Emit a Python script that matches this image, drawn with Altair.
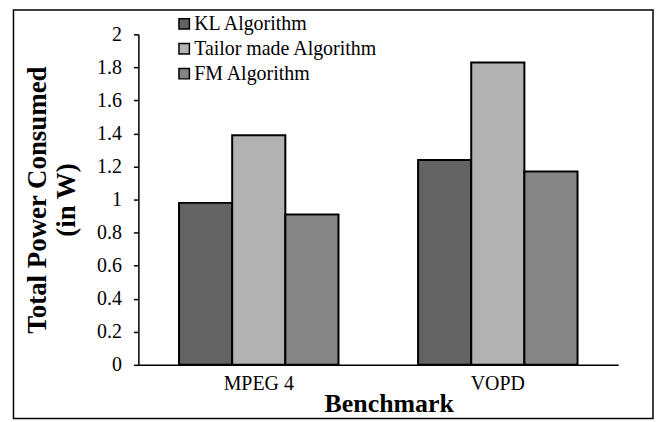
import altair as alt
import pandas as pd

benchmarks = ["MPEG 4", "VOPD"]
algorithms = ["KL Algorithm", "Tailor made Algorithm", "FM Algorithm"]
kl_power = [0.98, 1.24]
tailor_power = [1.39, 1.83]
fm_power = [0.91, 1.17]
colors = ["#636363", "#b2b2b2", "#858585"]
y_ticks = [0, 0.2, 0.4, 0.6, 0.8, 1.0, 1.2, 1.4, 1.6, 1.8, 2.0]

rows = []
for i, b in enumerate(benchmarks):
    for alg, vals in zip(algorithms, [kl_power, tailor_power, fm_power]):
        rows.append({"Benchmark": b, "Algorithm": alg, "Power": vals[i]})
df = pd.DataFrame(rows)

FONT = "Liberation Serif"

bars = alt.Chart(df).mark_bar(stroke="black", strokeWidth=2).encode(
    x=alt.X(
        "Benchmark:N",
        sort=benchmarks,
        scale=alt.Scale(paddingInner=0.333, paddingOuter=0.17),
        axis=alt.Axis(
            title="Benchmark", labelAngle=0, ticks=False, labelPadding=9,
            labelFont=FONT, labelFontSize=20, labelColor="black",
            domainColor="black", domainWidth=1.5,
            titleFont=FONT, titleFontSize=26, titleFontWeight="bold", titleColor="black",
            titleX=251.5, titleY=47, titleBaseline="alphabetic", titleAlign="center",
        ),
    ),
    xOffset=alt.XOffset("Algorithm:N", sort=algorithms,
                        scale=alt.Scale(paddingInner=0, paddingOuter=0)),
    y=alt.Y(
        "Power:Q",
        scale=alt.Scale(domain=[0, 2], nice=False),
        axis=alt.Axis(
            values=y_ticks, format="~g", grid=False,
            labelFont=FONT, labelFontSize=20, labelColor="black", labelPadding=12,
            tickSize=5, tickColor="black", tickWidth=1.5,
            domainColor="black", domainWidth=1.5,
            title=["Total Power Consumed", "(in W)"],
            titleFont=FONT, titleFontSize=27, titleFontWeight="bold", titleColor="black",
            titleAngle=270, titleX=-114, titleY=166, titleAlign="center",
            titleBaseline="top", titleLineHeight=29,
        ),
    ),
    color=alt.Color(
        "Algorithm:N",
        sort=algorithms,
        scale=alt.Scale(domain=algorithms, range=colors),
        legend=alt.Legend(
            title=None, orient="none", legendX=36, legendY=-20.5,
            symbolType="square", symbolSize=110, symbolStrokeColor="black",
            symbolStrokeWidth=1.5, symbolOpacity=1,
            labelFont=FONT, labelFontSize=20, labelColor="black", labelLimit=400,
            labelOffset=0, rowPadding=5, padding=0,
        ),
    ),
)

border = alt.Chart(pd.DataFrame({"a": [0]})).mark_rect(
    fillOpacity=0, stroke="black", strokeWidth=1.5
).encode(
    x=alt.value(-125.5), x2=alt.value(517),
    y=alt.value(-24.5), y2=alt.value(386),
)

chart = alt.layer(bars, border).properties(
    width=482, height=332,
    padding={"left": 131, "top": 25.5, "right": 36, "bottom": 56},
    autosize=alt.AutoSizeParams(type="none"),
    background="white",
).configure(
    font=FONT
).configure_axis(
    labelFont=FONT, titleFont=FONT
).configure_legend(
    labelFont=FONT
).configure_view(strokeWidth=0)

chart.save("out.html", embed_options={"renderer": "svg", "actions": False})
